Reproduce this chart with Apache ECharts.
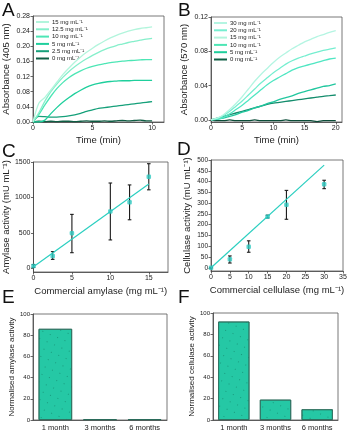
<!DOCTYPE html>
<html>
<head>
<meta charset="utf-8">
<script src="https://cdn.jsdelivr.net/npm/echarts@6/dist/echarts.min.js"></script>
<style>
  html, body { margin: 0; padding: 0; background: #fff; }
  #main { width: 351px; height: 432px; }
</style>
</head>
<body>
<div id="main"></div>
<script>
// ---- panel A : amylase kinetics (405 nm) ----
var timeA = [0, 0.5, 1, 1.5, 2, 2.5, 3, 3.5, 4, 4.5, 5, 5.5, 6, 6.5, 7, 7.5, 8, 8.5, 9, 9.5, 10];
var amy15 = [0, 0.05, 0.065, 0.085, 0.105, 0.125, 0.142, 0.158, 0.172, 0.184, 0.195, 0.205, 0.214, 0.222, 0.229, 0.235, 0.24, 0.244, 0.247, 0.249, 0.251];
var amy125 = [0, 0.025, 0.055, 0.08, 0.1, 0.118, 0.133, 0.146, 0.157, 0.167, 0.176, 0.184, 0.191, 0.197, 0.202, 0.206, 0.21, 0.213, 0.216, 0.219, 0.221];
var amy10 = [0, 0.02, 0.045, 0.068, 0.088, 0.104, 0.117, 0.127, 0.135, 0.142, 0.147, 0.151, 0.154, 0.157, 0.159, 0.161, 0.162, 0.163, 0.164, 0.165, 0.165];
var amy5 = [0, 0, 0.005, 0.022, 0.038, 0.052, 0.064, 0.075, 0.084, 0.092, 0.098, 0.102, 0.105, 0.107, 0.108, 0.109, 0.109, 0.11, 0.11, 0.11, 0.11];
var amy25 = [0, 0.015, 0.014, 0.013, 0.013, 0.014, 0.016, 0.019, 0.023, 0.028, 0.032, 0.036, 0.038, 0.04, 0.042, 0.044, 0.046, 0.048, 0.05, 0.052, 0.054];
var amy0 = [0, 0.002, 0.001, 0.002, 0.001, 0.002, 0.002, 0.001, 0.002, 0.003, 0.002, 0.002, 0.003, 0.002, 0.003, 0.004, 0.003, 0.004, 0.005, 0.003, 0.003];

// ---- panel B : cellulase kinetics (570 nm) ----
var timeB = [0, 1, 2, 3, 4, 5, 6, 7, 8, 9, 10, 11, 12, 13, 14, 15, 16, 17, 18, 19, 20];
var cel30 = [0, 0.002, 0.006, 0.012, 0.019, 0.027, 0.036, 0.045, 0.053, 0.06, 0.067, 0.073, 0.078, 0.083, 0.087, 0.091, 0.094, 0.097, 0.0995, 0.102, 0.104];
var cel20 = [0, 0.002, 0.005, 0.01, 0.016, 0.022, 0.029, 0.036, 0.043, 0.049, 0.055, 0.06, 0.065, 0.069, 0.072, 0.0745, 0.077, 0.079, 0.081, 0.0825, 0.084];
var cel15 = [0, 0.001, 0.003, 0.007, 0.012, 0.017, 0.023, 0.029, 0.035, 0.041, 0.046, 0.05, 0.054, 0.058, 0.061, 0.063, 0.065, 0.067, 0.069, 0.071, 0.072];
var cel10 = [0, 0.001, 0.002, 0.004, 0.006, 0.009, 0.011, 0.014, 0.016, 0.019, 0.021, 0.024, 0.026, 0.028, 0.031, 0.033, 0.035, 0.037, 0.039, 0.04, 0.042];
var cel5 = [0, 0.002, 0.004, 0.006, 0.008, 0.01, 0.012, 0.014, 0.016, 0.018, 0.0195, 0.0205, 0.0215, 0.0225, 0.0235, 0.0245, 0.0255, 0.0265, 0.0275, 0.0282, 0.029];
var cel0 = [0, -0.001, -0.001, 0, -0.001, -0.001, -0.001, 0, -0.001, -0.001, -0.001, -0.001, 0, -0.001, -0.001, -0.001, -0.001, -0.002, -0.001, -0.001, -0.001];

// ---- panel C : amylase calibration ----
var amyConc = [0, 2.5, 5, 10, 12.5, 15];
var amyAct = [33, 175, 497, 804, 932, 1292];
var amyLow = [15, 128, 222, 402, 686, 1108];
var amyHigh = [55, 237, 762, 1204, 1177, 1476];
var amyFitX = [0, 15];
var amyFitY = [25, 1190];

// ---- panel D : cellulase calibration ----
var celConc = [0, 5, 10, 15, 20, 30];
var celAct = [0, 39, 97, 237, 292, 387];
var celLow = [0, 22, 72, 231, 225, 367];
var celHigh = [0, 55, 125, 244, 359, 406];
var celFitX = [0, 30];
var celFitY = [0, 476];

// ---- panels E, F : storage stability ----
var ageLabels = ['1 month', '3 months', '6 months'];
var amyStab = [86, 0.8, 0.8];
var celStab = [92, 19, 10];

var amyNames = ['15 mg mL⁻¹', '12.5 mg mL⁻¹', '10 mg mL⁻¹', '5 mg mL⁻¹', '2.5 mg mL⁻¹', '0 mg mL⁻¹'];
var amyColors = ['#b2f5dc', '#86efcb', '#4de6b5', '#1fcf9c', '#16a07a', '#0f5e44'];
var celNames = ['30 mg mL⁻¹', '20 mg mL⁻¹', '15 mg mL⁻¹', '10 mg mL⁻¹', '5 mg mL⁻¹', '0 mg mL⁻¹'];
var celColors = ['#b4f5e2', '#76eed0', '#4fe6c2', '#22c79f', '#138c6c', '#0b4c38'];

var FONT = 'Liberation Sans';
var fitColor = '#2bcfc0';
var dotColor = '#2ec9c0';
var barColor = '#25c8a5';

function zip(xs, ys) {
  return xs.map(function (x, i) { return [x, ys[i]]; });
}

function plain(v) { return String(v); }

function valAxis(o) {
  return {
    type: 'value',
    gridIndex: o.grid,
    min: o.min,
    max: o.max,
    nameLocation: 'middle',
    name: o.name,
    nameGap: o.nameGap,
    nameTextStyle: { fontFamily: FONT, fontSize: o.nameSize || 9.5, color: '#222' },
    axisLine: { show: true, onZero: false, lineStyle: { color: '#444', width: 0.8 } },
    axisTick: { show: true, inside: false, length: 2.5, lineStyle: { color: '#444', width: 0.8 }, customValues: o.ticks },
    axisLabel: { fontFamily: FONT, fontSize: o.labelSize || 7, color: '#222', margin: 3, customValues: o.ticks, formatter: o.fmt || plain },
    splitLine: { show: false }
  };
}

function errRender(params, api) {
  var x = api.value(0);
  var top = api.coord([x, api.value(2)]);
  var bot = api.coord([x, api.value(1)]);
  var w = 1.8;
  var st = { stroke: '#1a1a1a', lineWidth: 1.1 };
  return {
    type: 'group',
    children: [
      { type: 'line', shape: { x1: top[0], y1: top[1], x2: bot[0], y2: bot[1] }, style: st },
      { type: 'line', shape: { x1: top[0] - w, y1: top[1], x2: top[0] + w, y2: top[1] }, style: st },
      { type: 'line', shape: { x1: bot[0] - w, y1: bot[1], x2: bot[0] + w, y2: bot[1] }, style: st }
    ]
  };
}

var chart = echarts.init(document.getElementById('main'), null, { renderer: 'canvas' });

var gridStyle = { show: true, borderColor: '#555', borderWidth: 0.8, backgroundColor: 'transparent' };

var fix2 = function (v) { return v.toFixed(2); };

var amyLines = [amy15, amy125, amy10, amy5, amy25, amy0];
var celLines = [cel30, cel20, cel15, cel10, cel5, cel0];

var series = [];
amyLines.forEach(function (d, i) {
  series.push({
    name: amyNames[i], type: 'line', xAxisIndex: 0, yAxisIndex: 0,
    data: zip(timeA, d), showSymbol: false, smooth: 0.3,
    lineStyle: { width: 1.3, color: amyColors[i] }, itemStyle: { color: amyColors[i] },
    z: 10 - i
  });
});
celLines.forEach(function (d, i) {
  series.push({
    name: celNames[i], type: 'line', xAxisIndex: 1, yAxisIndex: 1,
    data: zip(timeB, d), showSymbol: false, smooth: 0.3,
    lineStyle: { width: 1.3, color: celColors[i] }, itemStyle: { color: celColors[i] },
    z: 10 - i
  });
});

// C
series.push({
  type: 'line', xAxisIndex: 2, yAxisIndex: 2, data: zip(amyFitX, amyFitY),
  showSymbol: false, lineStyle: { color: fitColor, width: 1.2 }
});
series.push({
  type: 'custom', xAxisIndex: 2, yAxisIndex: 2, renderItem: errRender,
  encode: { x: 0, y: [1, 2] },
  data: amyConc.map(function (c, i) { return [c, amyLow[i], amyHigh[i]]; }), z: 3
});
series.push({
  type: 'scatter', xAxisIndex: 2, yAxisIndex: 2, data: zip(amyConc, amyAct),
  symbol: 'roundRect', symbolSize: 4.5, itemStyle: { color: dotColor }, z: 5
});

// D
series.push({
  type: 'line', xAxisIndex: 3, yAxisIndex: 3, data: zip(celFitX, celFitY),
  showSymbol: false, lineStyle: { color: fitColor, width: 1.2 }
});
series.push({
  type: 'custom', xAxisIndex: 3, yAxisIndex: 3, renderItem: errRender,
  encode: { x: 0, y: [1, 2] },
  data: celConc.map(function (c, i) { return [c, celLow[i], celHigh[i]]; }), z: 3
});
series.push({
  type: 'scatter', xAxisIndex: 3, yAxisIndex: 3, data: zip(celConc, celAct),
  symbol: 'roundRect', symbolSize: 4.5, itemStyle: { color: dotColor }, z: 5
});

// E, F  (faint dotted fill like the original bars)
var dots = { symbol: 'circle', symbolSize: 1, dashArrayX: [[1, 7]], dashArrayY: [1, 7], rotation: 0.4, color: 'rgba(10,90,70,0.55)' };
series.push({
  type: 'bar', xAxisIndex: 4, yAxisIndex: 4, data: amyStab, barWidth: '75%',
  itemStyle: { color: barColor, borderColor: '#2b6b5a', borderWidth: 0.8, decal: dots }
});
series.push({
  type: 'bar', xAxisIndex: 5, yAxisIndex: 5, data: celStab, barWidth: '75%',
  itemStyle: { color: barColor, borderColor: '#2b6b5a', borderWidth: 0.8, decal: dots }
});

function catAxis(g) {
  return {
    type: 'category', gridIndex: g, data: ageLabels,
    axisLine: { show: true, lineStyle: { color: '#444', width: 0.8 } },
    axisTick: { show: false },
    axisLabel: { fontFamily: FONT, fontSize: 7.5, color: '#222', margin: 4 },
    splitLine: { show: false }
  };
}

var letterStyle = { fontFamily: FONT, fontSize: 19, fill: '#111' };

var legendText = { fontFamily: FONT, fontSize: 6, color: '#222', padding: [0, 0, 0, -2] };

var option = {
  animation: false,
  backgroundColor: '#fff',
  grid: [
    Object.assign({ left: 32, top: 16, width: 132, height: 106 }, gridStyle),
    Object.assign({ left: 211, top: 17, width: 131, height: 105 }, gridStyle),
    Object.assign({ left: 32, top: 162, width: 136, height: 110 }, gridStyle),
    Object.assign({ left: 211, top: 160, width: 132, height: 111 }, gridStyle),
    Object.assign({ left: 33, top: 314, width: 134, height: 107 }, gridStyle),
    Object.assign({ left: 213, top: 313, width: 125, height: 107 }, gridStyle)
  ],
  legend: [
    {
      data: amyNames, left: 36, top: 19, orient: 'vertical', itemWidth: 13, itemHeight: 2,
      itemGap: 1.3, icon: 'rect', textStyle: legendText, padding: 0
    },
    {
      data: celNames, left: 214, top: 20, orient: 'vertical', itemWidth: 13, itemHeight: 2,
      itemGap: 1.3, icon: 'rect', textStyle: legendText, padding: 0
    }
  ],
  xAxis: [
    valAxis({ grid: 0, min: 0, max: 11, name: 'Time (min)', nameGap: 13, ticks: [0, 5, 10] }),
    valAxis({ grid: 1, min: 0, max: 21, name: 'Time (min)', nameGap: 13, ticks: [0, 5, 10, 15, 20] }),
    valAxis({ grid: 2, min: 0, max: 17.5, name: 'Commercial amylase (mg mL⁻¹)', nameGap: 14, ticks: [0, 5, 10, 15] }),
    valAxis({ grid: 3, min: 0, max: 35, name: 'Commercial cellulase (mg mL⁻¹)', nameGap: 14, ticks: [0, 5, 10, 15, 20, 25, 30, 35] }),
    catAxis(4),
    catAxis(5)
  ],
  yAxis: [
    valAxis({ grid: 0, min: 0, max: 0.28, name: 'Absorbance (405 nm)', nameGap: 22, ticks: [0, 0.04, 0.08, 0.12, 0.16, 0.2, 0.24, 0.28], fmt: fix2 }),
    valAxis({ grid: 1, min: -0.0025, max: 0.12, name: 'Absorbance (570 nm)', nameGap: 22, ticks: [0, 0.04, 0.08, 0.12], fmt: fix2 }),
    valAxis({ grid: 2, min: -50, max: 1500, name: 'Amylase activity (mU mL⁻¹)', nameGap: 21, ticks: [0, 500, 1000, 1500] }),
    valAxis({ grid: 3, min: -15, max: 500, name: 'Cellulase activity (mU mL⁻¹)', nameGap: 19, ticks: [0, 50, 100, 150, 200, 250, 300, 350, 400, 450, 500], labelSize: 6.5 }),
    valAxis({ grid: 4, min: 0, max: 100, name: 'Normalised amylase activity', nameGap: 15, nameSize: 8, ticks: [0, 20, 40, 60, 80, 100], labelSize: 6 }),
    valAxis({ grid: 5, min: 0, max: 100, name: 'Normalised cellulase activity', nameGap: 15, nameSize: 8, ticks: [0, 20, 40, 60, 80, 100], labelSize: 6 })
  ],
  series: series,
  graphic: [
    { type: 'text', left: 2, top: 1, style: Object.assign({ text: 'A' }, letterStyle) },
    { type: 'text', left: 178, top: 1, style: Object.assign({ text: 'B' }, letterStyle) },
    { type: 'text', left: 2, top: 142, style: Object.assign({ text: 'C' }, letterStyle) },
    { type: 'text', left: 177, top: 140, style: Object.assign({ text: 'D' }, letterStyle) },
    { type: 'text', left: 2, top: 288, style: Object.assign({ text: 'E' }, letterStyle) },
    { type: 'text', left: 178, top: 288, style: Object.assign({ text: 'F' }, letterStyle) }
  ]
};

chart.setOption(option);
</script>
</body>
</html>
